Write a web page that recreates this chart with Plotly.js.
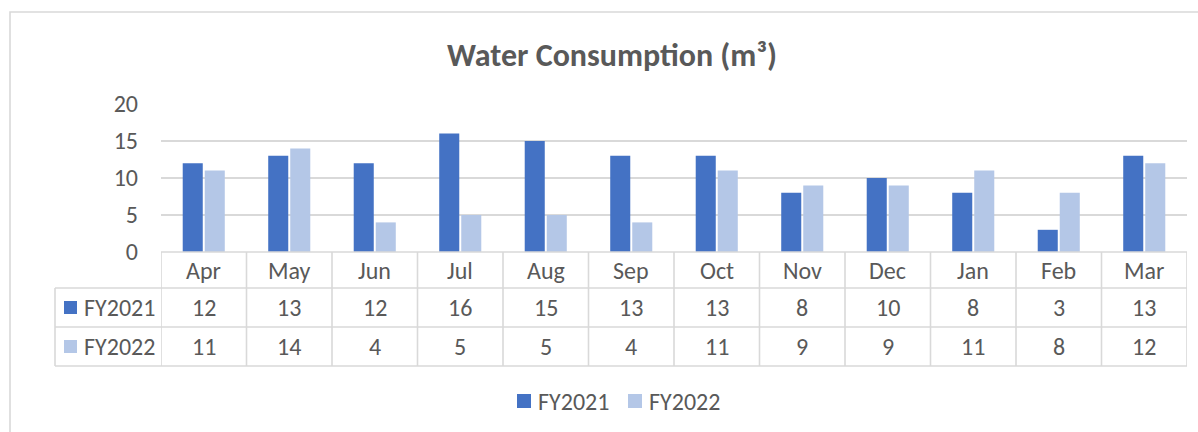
<!DOCTYPE html>
<html>
<head>
<meta charset="utf-8">
<script src="https://cdn.plot.ly/plotly-3.0.1.min.js"></script>
<style>html,body{margin:0;padding:0;background:#fff;}#chart{width:1198px;height:432px;}</style>
</head>
<body>
<div id="chart"></div>
<script>
// ---- data ----
const months = ['Apr','May','Jun','Jul','Aug','Sep','Oct','Nov','Dec','Jan','Feb','Mar'];
const fy2021 = [12,13,12,16,15,13,13,8,10,8,3,13];
const fy2022 = [11,14,4,5,5,4,11,9,9,11,8,12];
const seriesNames = ['FY2021','FY2022'];
const seriesColors = ['#4472C4','#B4C7E7'];
const chartTitle = 'Water Consumption (m³)';

// ---- geometry (pixels) ----
const W = 1198, H = 432;
const L = 161, R = 1187, T = 104, B = 252;
const tableLeft = 55;
const rowBounds = [252, 288, 327, 366];
const textColor = '#595959';
const lineColor = '#d9d9d9';
const FONT = "Calibri, Carlito, 'Liberation Sans', Arial, sans-serif";

const pX = p => (p - L) / (R - L);
const pY = p => (B - p) / (B - T);

const traces = [fy2021, fy2022].map((vals, i) => ({
  type: 'bar', x: months, y: vals, name: seriesNames[i],
  marker: {color: seriesColors[i]},
  hoverinfo: 'x+y+name', showlegend: false
}));

const shapes = [];
const annotations = [];
const line = (x0, y0, x1, y1) => shapes.push({
  type: 'line', xref: 'paper', yref: 'paper',
  x0, y0, x1, y1, line: {color: lineColor, width: 1.6}, layer: 'above'
});

// outer chart border
shapes.push({type: 'rect', xref: 'paper', yref: 'paper',
  x0: pX(10), x1: pX(1210), y0: pY(12), y1: pY(450),
  line: {color: lineColor, width: 1.6}, fillcolor: 'rgba(0,0,0,0)', layer: 'below'});

// table horizontal lines
line(pX(L), pY(rowBounds[0]), pX(R), pY(rowBounds[0]));
for (let k = 1; k < rowBounds.length; k++) {
  line(pX(tableLeft), pY(rowBounds[k]), pX(R), pY(rowBounds[k]));
}
line(pX(tableLeft), pY(rowBounds[1]), pX(tableLeft), pY(rowBounds[3]));
for (let i = 0; i <= months.length; i++) {
  shapes.push({type: 'line', xref: 'x', yref: 'paper',
    x0: i - 0.5, x1: i - 0.5, y0: pY(rowBounds[0]), y1: pY(rowBounds[3]),
    line: {color: lineColor, width: 1.6}, layer: 'above'});
}

const cellFont = {family: FONT, size: 24, color: textColor};
const rowCenter = k => pY((rowBounds[k] + rowBounds[k + 1]) / 2);

months.forEach((m, i) => {
  annotations.push({xref: 'x', yref: 'paper', x: i, y: rowCenter(0), text: m,
    showarrow: false, font: cellFont, xanchor: 'center', yanchor: 'middle'});
  [fy2021, fy2022].forEach((vals, s) => {
    annotations.push({xref: 'x', yref: 'paper', x: i, y: rowCenter(s + 1), text: String(vals[i]),
      showarrow: false, font: cellFont, xanchor: 'center', yanchor: 'middle'});
  });
});

// row labels with colour keys
seriesNames.forEach((n, s) => {
  const cy = (rowBounds[s + 1] + rowBounds[s + 2]) / 2;
  shapes.push({type: 'rect', xref: 'paper', yref: 'paper',
    x0: pX(64), x1: pX(77), y0: pY(cy - 6.5), y1: pY(cy + 6.5),
    fillcolor: seriesColors[s], line: {width: 0}, layer: 'above'});
  annotations.push({xref: 'paper', yref: 'paper', x: pX(82), y: pY(cy), text: n,
    showarrow: false, font: cellFont, xanchor: 'left', yanchor: 'middle'});
});

// bottom legend
const legendKeys = [517, 628];
const legendY = 401;
seriesNames.forEach((n, s) => {
  shapes.push({type: 'rect', xref: 'paper', yref: 'paper',
    x0: pX(legendKeys[s]), x1: pX(legendKeys[s] + 14), y0: pY(legendY - 7), y1: pY(legendY + 7),
    fillcolor: seriesColors[s], line: {width: 0}});
  annotations.push({xref: 'paper', yref: 'paper', x: pX(legendKeys[s] + 19), y: pY(legendY), text: n,
    showarrow: false, font: cellFont, xanchor: 'left', yanchor: 'middle'});
});

const layout = {
  width: W, height: H,
  margin: {l: L, r: W - R, t: T, b: H - B, pad: 0},
  paper_bgcolor: '#ffffff', plot_bgcolor: '#ffffff',
  font: {family: FONT, color: textColor},
  title: {text: '<b>' + chartTitle + '</b>', font: {family: FONT, size: 32, color: textColor},
    xref: 'paper', x: pX(612), xanchor: 'center', yref: 'container', y: 1 - 55 / H, yanchor: 'middle'},
  barmode: 'group', bargap: 0.485, bargroupgap: 0.09,
  xaxis: {type: 'category', showticklabels: false, showgrid: false, zeroline: false,
    showline: false, ticks: '', fixedrange: true, range: [-0.5, months.length - 0.5]},
  yaxis: {range: [0, 20], dtick: 5, tick0: 0, showgrid: true, gridcolor: lineColor, gridwidth: 1.6,
    zeroline: false, showline: false, ticks: '', ticklabelstandoff: 22,
    tickfont: {family: FONT, size: 24, color: textColor}, fixedrange: true},
  showlegend: false,
  shapes, annotations
};

Plotly.newPlot('chart', traces, layout, {displayModeBar: false, staticPlot: true});
</script>
</body>
</html>
